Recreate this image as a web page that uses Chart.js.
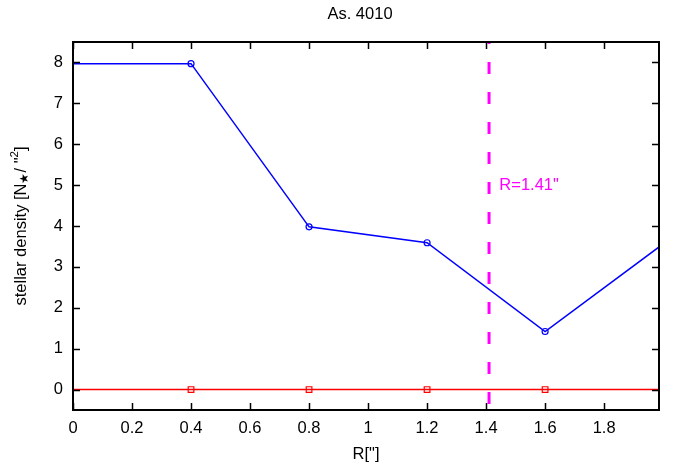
<!DOCTYPE html>
<html>
<head>
<meta charset="utf-8">
<script src="https://cdn.jsdelivr.net/npm/chart.js@4/dist/chart.umd.min.js"></script>
<style>
html,body{margin:0;padding:0;background:#fff;}
#wrap{width:673px;height:465px;position:relative;}
</style>
</head>
<body>
<div id="wrap"><canvas id="c" width="673" height="465"></canvas></div>
<script>
// ---- data ----
const titleText = 'As. 4010';
const xTitle = 'R["]';
const radiiBlue = [0, 0.4, 0.8, 1.2, 1.6, 2.0];
const densityBlue = [7.97, 7.97, 3.98, 3.59, 1.42, 3.56];
const radiiRed = [0, 0.4, 0.8, 1.2, 1.6, 2.0];
const densityRed = [0, 0, 0, 0, 0, 0];
const xTicks = [0, 0.2, 0.4, 0.6, 0.8, 1, 1.2, 1.4, 1.6, 1.8];
const yTicks = [0, 1, 2, 3, 4, 5, 6, 7, 8];
const radiusMark = 1.41;
const radiusLabel = 'R=1.41"';
const labelPos = {x: 1.445, y: 5};
const xRange = [0, 1.986];
const yRange = [-0.5, 8.5];

const FONT = '"Liberation Sans", Arial, sans-serif';
const FS = 16.5;

const markerVisible = xs => xs.map(x => (x > 0 && x < 1.9) ? 3 : 0);

const framePlugin = {
  id: 'frame',
  afterDatasetsDraw(chart) {
    const {ctx, chartArea: a, scales: {x, y}} = chart;
    ctx.save();
    ctx.beginPath();
    ctx.rect(a.left, a.top, a.right - a.left, a.bottom - a.top);
    ctx.clip();
    const xm = x.getPixelForValue(radiusMark);
    ctx.strokeStyle = '#ff00ff';
    ctx.lineWidth = 3;
    ctx.setLineDash([12, 18]);
    ctx.lineDashOffset = 10;
    ctx.beginPath();
    ctx.moveTo(xm, a.top);
    ctx.lineTo(xm, a.bottom);
    ctx.stroke();
    ctx.restore();

    ctx.save();
    ctx.fillStyle = '#ff00ff';
    ctx.font = FS + 'px ' + FONT;
    ctx.textAlign = 'left';
    ctx.textBaseline = 'middle';
    ctx.fillText(radiusLabel, x.getPixelForValue(labelPos.x), y.getPixelForValue(labelPos.y));

    ctx.strokeStyle = '#000';
    ctx.lineWidth = 2;
    ctx.strokeRect(a.left, a.top, a.right - a.left, a.bottom - a.top);
    ctx.lineWidth = 1.5;
    const tl = 7;
    ctx.beginPath();
    xTicks.forEach(v => {
      const px = Math.round(x.getPixelForValue(v)) + 0.5;
      ctx.moveTo(px, a.bottom); ctx.lineTo(px, a.bottom - tl);
      ctx.moveTo(px, a.top); ctx.lineTo(px, a.top + tl);
    });
    yTicks.forEach(v => {
      const py = Math.round(y.getPixelForValue(v)) + 0.5;
      ctx.moveTo(a.left, py); ctx.lineTo(a.left + tl, py);
      ctx.moveTo(a.right, py); ctx.lineTo(a.right - tl, py);
    });
    ctx.stroke();

    ctx.fillStyle = '#000';
    ctx.font = FS + 'px ' + FONT;
    ctx.textAlign = 'center';
    ctx.textBaseline = 'middle';
    ctx.fillText(titleText, (a.left + a.right) / 2 - 6, 14);

    ctx.translate(21, (a.top + a.bottom) / 2);
    ctx.rotate(-Math.PI / 2);
    const parts = [
      {t: 'stellar density [N', s: FS, dy: 0},
      {t: '\u2605', s: 11.5, dy: 4},
      {t: '/ "', s: FS, dy: 0},
      {t: '2', s: 11.5, dy: -6},
      {t: ']', s: FS, dy: 0}
    ];
    let total = 0;
    parts.forEach(p => { ctx.font = p.s + 'px ' + FONT; p.w = ctx.measureText(p.t).width; total += p.w; });
    let cx = -total / 2;
    ctx.textAlign = 'left';
    parts.forEach(p => {
      ctx.font = p.s + 'px ' + FONT;
      ctx.fillText(p.t, cx, p.dy);
      cx += p.w;
    });
    ctx.restore();
  }
};

new Chart(document.getElementById('c'), {
  type: 'line',
  data: {
    datasets: [
      {
        data: radiiBlue.map((x, i) => ({x, y: densityBlue[i]})),
        borderColor: '#0000ff',
        borderWidth: 1.5,
        pointStyle: 'circle',
        pointRadius: markerVisible(radiiBlue),
        pointBorderColor: '#0000ff',
        pointBackgroundColor: 'rgba(0,0,0,0)',
        pointBorderWidth: 1.2,
        tension: 0,
        fill: false
      },
      {
        data: radiiRed.map((x, i) => ({x, y: densityRed[i]})),
        borderColor: '#ff0000',
        borderWidth: 1.5,
        pointStyle: 'rect',
        pointRadius: markerVisible(radiiRed).map(r => r ? 4 : 0),
        pointBorderColor: '#ff0000',
        pointBackgroundColor: 'rgba(0,0,0,0)',
        pointBorderWidth: 1.2,
        tension: 0,
        fill: false
      }
    ]
  },
  options: {
    responsive: false,
    animation: false,
    devicePixelRatio: 1,
    clip: {left: 0, right: 0, top: 0, bottom: 0},
    layout: {padding: {top: 42, right: 14, left: 0, bottom: 0}},
    plugins: {legend: {display: false}, tooltip: {enabled: false}, title: {display: false}},
    scales: {
      x: {
        type: 'linear',
        min: xRange[0], max: xRange[1],
        afterBuildTicks: s => { s.ticks = xTicks.map(v => ({value: v})); },
        afterFit: s => { s.height = 55; },
        grid: {display: false, drawTicks: false},
        border: {display: false},
        ticks: {
          padding: 9, color: '#000', font: {family: FONT, size: FS},
          maxRotation: 0, autoSkip: false,
          callback: v => String(Math.round(v * 10) / 10)
        },
        title: {display: true, text: xTitle, color: '#000', font: {family: FONT, size: FS}, padding: {top: 0, bottom: 1}}
      },
      y: {
        type: 'linear',
        min: yRange[0], max: yRange[1],
        afterBuildTicks: s => { s.ticks = yTicks.map(v => ({value: v})); },
        afterFit: s => { s.width = 73; },
        grid: {display: false, drawTicks: false},
        border: {display: false},
        ticks: {padding: 10, color: '#000', font: {family: FONT, size: FS}, autoSkip: false}
      }
    }
  },
  plugins: [framePlugin]
});
</script>
</body>
</html>
